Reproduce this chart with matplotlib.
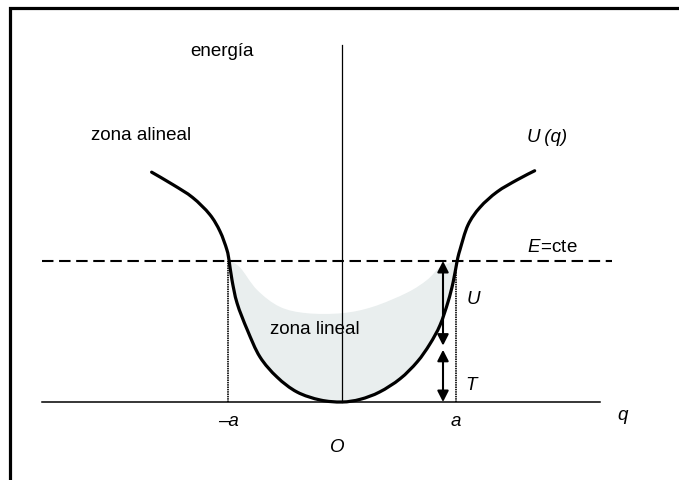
import numpy as np
import matplotlib.pyplot as plt
from matplotlib.path import Path
from matplotlib.patches import PathPatch

plt.rcParams['font.family'] = ['Liberation Sans', 'DejaVu Sans']
plt.rcParams['mathtext.fontset'] = 'custom'
plt.rcParams['mathtext.rm'] = 'Liberation Sans'
plt.rcParams['mathtext.it'] = 'Liberation Sans:italic'

# Potential U(q); q in units of a, energy in units of E
q_curve = [-1.67, -1.48, -1.31, -1.16, -1.07, -1.01, -0.99, -0.965, -0.92, -0.83,
           -0.72, -0.57, -0.395, -0.19, 0.0, 0.16, 0.33, 0.51, 0.66, 0.77,
           0.86, 0.93, 0.975, 1.01, 1.035, 1.105, 1.21, 1.36, 1.535, 1.69]
u_curve = [1.63, 1.54, 1.45, 1.33, 1.21, 1.08, 1.0, 0.865, 0.70, 0.51,
           0.32, 0.177, 0.071, 0.014, 0.0, 0.019, 0.071, 0.165, 0.285, 0.41,
           0.545, 0.71, 0.85, 1.0, 1.08, 1.255, 1.38, 1.49, 1.575, 1.64]

# upper edge of the shaded "linear zone"
q_shade = [-0.99, -0.895, -0.745, -0.545, -0.31, 0.0, 0.27, 0.57, 0.745, 0.86, 0.99]
u_shade = [1.0, 0.955, 0.795, 0.675, 0.63, 0.63, 0.675, 0.775, 0.865, 0.955, 1.0]

E = 1.0
a = 1.0
T_split = 0.39     # kinetic part at the marked point
q_arrow = 0.886


def smooth_path(xs, ys):
    """Catmull-Rom through the points, as cubic Bezier segments."""
    p = np.column_stack([xs, ys])
    verts = [p[0]]
    codes = [Path.MOVETO]
    for i in range(len(p) - 1):
        p0 = p[i - 1] if i > 0 else p[i]
        p3 = p[i + 2] if i + 2 < len(p) else p[i + 1]
        c1 = p[i] + (p[i + 1] - p0) / 6
        c2 = p[i + 1] - (p3 - p[i]) / 6
        verts += [c1, c2, p[i + 1]]
        codes += [Path.CURVE4] * 3
    return np.array(verts), codes


fig = plt.figure(figsize=(6.79, 4.80), dpi=100)
ax = fig.add_axes([0, 0, 1, 1])
ax.set_xlim(-342 / 114, (679 - 342) / 114)
ax.set_ylim(-(480 - 402) / 141, 402 / 141)
ax.axis('off')

# outer frame (left and top edges)
ax.plot([10 / 679, 10 / 679, 1.01], [-0.01, 1 - 8 / 480, 1 - 8 / 480],
        transform=ax.transAxes, color='black', lw=2.3, clip_on=False,
        solid_joinstyle='miter')

# shaded region between U(q) and the upper edge
q_arr = np.array(q_curve)
u_arr = np.array(u_curve)
inner = (q_arr >= -0.99) & (q_arr <= 1.01)
v_top, c_top = smooth_path(q_shade, u_shade)
v_bot, c_bot = smooth_path(q_arr[inner][::-1], u_arr[inner][::-1])
verts = np.vstack([v_top, v_bot[1:], v_top[:1]])
codes = c_top + c_bot[1:] + [Path.CLOSEPOLY]
ax.add_patch(PathPatch(Path(verts, codes), fc='#e9eeee', ec='none', zorder=1))

# axes
ax.plot([-2.63, 2.26], [0, 0], color='black', lw=1.1, zorder=2)
ax.plot([0, 0], [0, 2.53], color='black', lw=0.9, zorder=2)

# energy level
ax.plot([-2.63, 2.37], [E, E], color='black', lw=1.5,
        linestyle=(0, (5.5, 2.7)), zorder=2)

# turning points
for qa in (-a, a):
    ax.plot([qa, qa], [0, E], color='black', lw=1.2, linestyle=(0, (0.9, 0.5)), zorder=2)

# potential curve
v_u, c_u = smooth_path(q_curve, u_curve)
ax.add_patch(PathPatch(Path(v_u, c_u), fc='none', ec='black', lw=2.3,
                       capstyle='round', joinstyle='round', zorder=3))

# U and T arrows
arrow_kw = dict(arrowstyle='<|-|>,head_length=0.55,head_width=0.28',
                mutation_scale=12, shrinkA=0, shrinkB=0, lw=1.5,
                color='black')
ax.annotate('', xy=(q_arrow, T_split + 0.01), xytext=(q_arrow, E),
            arrowprops=arrow_kw, zorder=4)
ax.annotate('', xy=(q_arrow, 0), xytext=(q_arrow, T_split - 0.02),
            arrowprops=arrow_kw, zorder=4)


def px(x, y):
    return (x - 342) / 114, (402 - y) / 141


fs = 13.5
ax.text(*px(222, 52), 'energía', fontsize=fs, ha='center', va='center')
ax.text(*px(141, 136), 'zona alineal', fontsize=fs, ha='center', va='center')
ax.text(*px(315, 330), 'zona lineal', fontsize=fs, ha='center', va='center')
ax.text(*px(547, 137), 'U\u2009(q)', fontsize=fs, style='italic', ha='center', va='center')
ax.text(*px(552, 248), r'$E\!=\!$cte', fontsize=fs, ha='center', va='center')
ax.text(*px(473, 300), 'U', fontsize=fs, style='italic', ha='center', va='center')
ax.text(*px(471, 385), 'T', fontsize=fs, style='italic', ha='center', va='center')
ax.text(*px(229, 421), '\u2013a', fontsize=fs, style='italic', ha='center', va='center')
ax.text(*px(456, 421), 'a', fontsize=fs, style='italic', ha='center', va='center')
ax.text(*px(337, 447), 'O', fontsize=fs, style='italic', ha='center', va='center')
ax.text(*px(623, 416), 'q', fontsize=fs, style='italic', ha='center', va='center')

fig.savefig('out.png', dpi=100)
